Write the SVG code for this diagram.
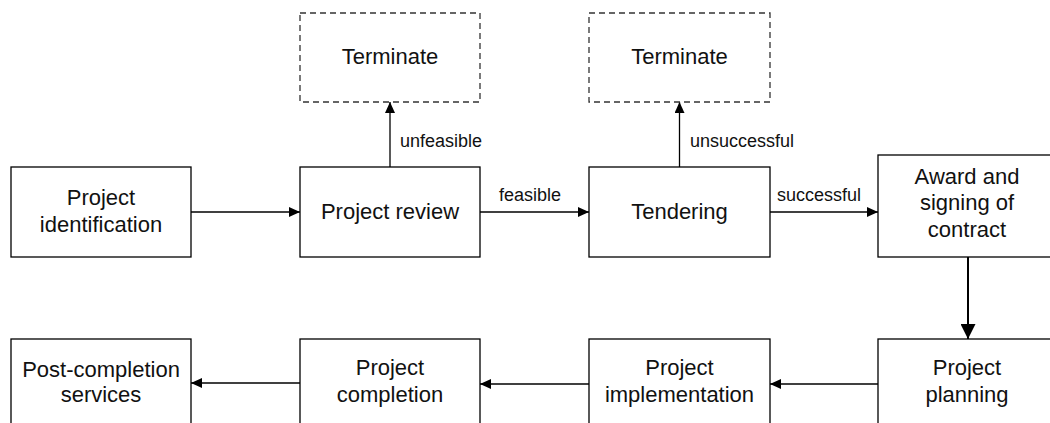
<svg xmlns="http://www.w3.org/2000/svg" width="1050" height="423" viewBox="0 0 1050 423">
<defs>
<style>
.box{fill:#fff;stroke:#000;stroke-width:1.3}
.dash{fill:#fff;stroke:#333;stroke-width:1.3;stroke-dasharray:6 4}
.t{font-family:"Liberation Sans",Arial,sans-serif;font-size:22px;fill:#111;text-anchor:middle}
.l{font-family:"Liberation Sans",Arial,sans-serif;font-size:18px;fill:#111}
.c{fill:none;stroke:#000;stroke-width:1.3}
.c2{fill:none;stroke:#000;stroke-width:2}
</style>
<marker id="ah" viewBox="0 0 11 10" refX="11" refY="5" markerWidth="11" markerHeight="10" markerUnits="userSpaceOnUse" orient="auto">
<path d="M0,0 L11,5 L0,10 Z" fill="#000"/>
</marker>
<marker id="ah2" viewBox="0 0 15 15" refX="15" refY="7.5" markerWidth="15" markerHeight="15" markerUnits="userSpaceOnUse" orient="auto">
<path d="M0,0 L15,7.5 L0,15 Z" fill="#000"/>
</marker>
</defs>
<rect width="1050" height="423" fill="#fff"/>
<g id="connectors">
<line class="c" x1="191" y1="212" x2="300" y2="212" marker-end="url(#ah)"/>
<line class="c" x1="480" y1="212" x2="589" y2="212" marker-end="url(#ah)"/>
<line class="c" x1="770" y1="212" x2="878" y2="212" marker-end="url(#ah)"/>
<line class="c" x1="390" y1="167" x2="390" y2="102" marker-end="url(#ah)"/>
<line class="c" x1="679.5" y1="167" x2="679.5" y2="102" marker-end="url(#ah)"/>
<line class="c2" x1="968" y1="257" x2="968" y2="339" marker-end="url(#ah2)"/>
<line class="c" x1="878" y1="384" x2="770" y2="384" marker-end="url(#ah)"/>
<line class="c" x1="589" y1="384" x2="480" y2="384" marker-end="url(#ah)"/>
<line class="c" x1="300" y1="383" x2="191" y2="383" marker-end="url(#ah)"/>
<text class="l" x="400" y="147">unfeasible</text>
<text class="l" x="499" y="201">feasible</text>
<text class="l" x="690" y="147">unsuccessful</text>
<text class="l" x="777" y="201">successful</text>
</g>
<g id="identification">
<rect class="box" x="11" y="167" width="180" height="90"/>
<text class="t" x="101" y="205">Project</text>
<text class="t" x="101" y="231.5">identification</text>
</g>
<g id="review">
<rect class="box" x="300" y="167" width="180" height="90"/>
<text class="t" x="390" y="219">Project review</text>
</g>
<g id="terminate1">
<rect class="dash" x="300" y="13" width="180" height="89"/>
<text class="t" x="390" y="64">Terminate</text>
</g>
<g id="tendering">
<rect class="box" x="589" y="167" width="181" height="90"/>
<text class="t" x="679.5" y="219">Tendering</text>
</g>
<g id="terminate2">
<rect class="dash" x="589" y="13" width="181" height="89"/>
<text class="t" x="679.5" y="64">Terminate</text>
</g>
<g id="award">
<rect class="box" x="878" y="155" width="180" height="102"/>
<text class="t" x="967" y="183.5">Award and</text>
<text class="t" x="967" y="210">signing of</text>
<text class="t" x="967" y="236.5">contract</text>
</g>
<g id="planning">
<rect class="box" x="878" y="339" width="180" height="90"/>
<text class="t" x="967" y="375">Project</text>
<text class="t" x="967" y="401.5">planning</text>
</g>
<g id="implementation">
<rect class="box" x="589" y="339" width="181" height="90"/>
<text class="t" x="679.5" y="375">Project</text>
<text class="t" x="679.5" y="401.5">implementation</text>
</g>
<g id="completion">
<rect class="box" x="300" y="339" width="180" height="90"/>
<text class="t" x="390" y="375">Project</text>
<text class="t" x="390" y="401.5">completion</text>
</g>
<g id="post-completion">
<rect class="box" x="11" y="339" width="180" height="90"/>
<text class="t" x="101" y="376.5">Post-completion</text>
<text class="t" x="101" y="402">services</text>
</g>
</svg>
